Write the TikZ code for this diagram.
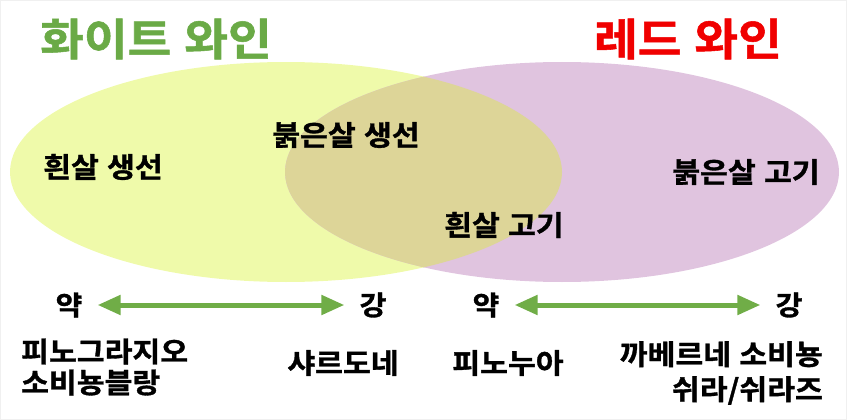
\documentclass[tikz,border=0pt]{standalone}
\usepackage{fontspec}
\setmainfont{Noto Sans CJK KR}
\newfontfamily\kr{Noto Sans CJK KR Bold}[FakeStretch=1.08, FakeBold=1.2, WordSpace=1.6]
\newfontfamily\krtitle{Noto Sans CJK KR Bold}[FakeStretch=1.08, FakeBold=1.2, WordSpace=1.2]
\usetikzlibrary{arrows.meta}
\definecolor{ylw}{HTML}{EFFAAA}
\definecolor{pnk}{HTML}{E0C4DF}
\definecolor{ovl}{HTML}{DDD598}
\definecolor{grn}{HTML}{70AD47}
\definecolor{ttlgreen}{HTML}{6AAA46}
\definecolor{ttlred}{HTML}{F00000}
\begin{document}
\begin{tikzpicture}[x=1pt,y=-1pt,
  title/.style={font=\krtitle\fontsize{44}{48}\selectfont, inner sep=0pt},
  lbl/.style={font=\kr\fontsize{28}{30}\selectfont, inner sep=0pt, text=black},
  endlbl/.style={font=\kr\fontsize{27}{30}\selectfont, inner sep=0pt, text=black},
  wine/.style={font=\kr\fontsize{28}{31}\selectfont, inner sep=0pt, text=black},
  scalearrow/.style={draw=grn, line width=5pt, shorten <=15pt, shorten >=15pt,
    {Triangle[length=23pt,width=19pt]}-{Triangle[length=23pt,width=19pt]}}]
\useasboundingbox (0,0) rectangle (847,420);
\draw[gray!12, line width=2pt] (0,0) rectangle (847,420);
% ellipses
\fill[ylw] (286,172) ellipse [x radius=276, y radius=110];
\fill[pnk] (562,172) ellipse [x radius=277, y radius=110];
\begin{scope}
  \clip (286,172) ellipse [x radius=276, y radius=110];
  \fill[ovl] (562,172) ellipse [x radius=277, y radius=110];
\end{scope}
% titles
\node[title, text=ttlgreen] (tw) at (156,39) {화이트 와인};
\node[title, text=ttlred] (tr) at (688,39) {레드 와인};
% region labels
\node[lbl] (l1) at (103,167) {흰살 생선};
\node[lbl] (l2) at (346,135) {붉은살 생선};
\node[lbl] (l3) at (746,172) {붉은살 고기};
\node[lbl] (l4) at (504,225) {흰살 고기};
% scales
\node[endlbl] (w1) at (69,305) {약};
\node[endlbl] (s1) at (373,305) {강};
\node[endlbl] (w2) at (486,305) {약};
\node[endlbl] (s2) at (789,305) {강};
\draw[scalearrow] (w1.east) -- (s1.west);
\draw[scalearrow] (w2.east) -- (s2.west);
% wines
\node[wine, anchor=west, align=left] (v1) at (21,367) {피노그라지오\\소비뇽블랑};
\node[wine] (v2) at (343,363) {샤르도네};
\node[wine] (v3) at (508,363) {피노누아};
\node[wine, anchor=east, align=right] (v4) at (823,373) {까베르네 소비뇽\\[4pt]쉬라/쉬라즈};
\end{tikzpicture}
\end{document}
